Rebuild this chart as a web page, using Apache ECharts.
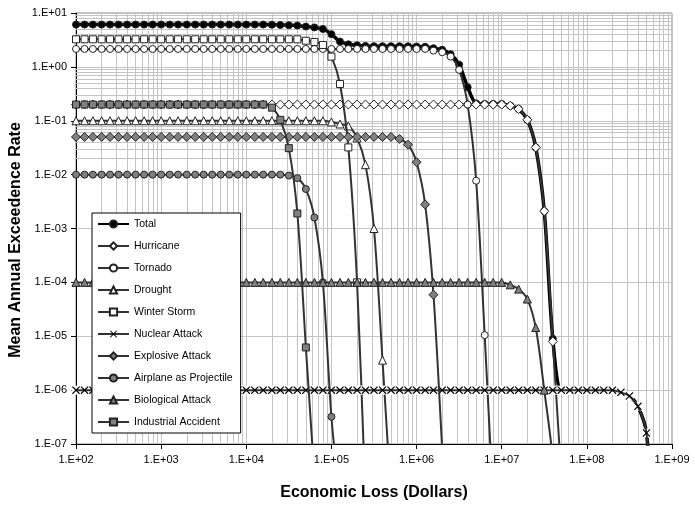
<!DOCTYPE html>
<html><head><meta charset="utf-8">
<script src="https://cdn.jsdelivr.net/npm/echarts@6/dist/echarts.min.js"></script>
<style>html,body{margin:0;padding:0;background:#fff}#c{width:695px;height:506px}</style>
</head><body><div id="c"></div>
<script>
// Loss values (x), 10 points per decade
const lossX = [
1.00e2,1.26e2,1.58e2,2.00e2,2.51e2,3.16e2,3.98e2,5.01e2,6.31e2,7.94e2,
1.00e3,1.26e3,1.58e3,2.00e3,2.51e3,3.16e3,3.98e3,5.01e3,6.31e3,7.94e3,
1.00e4,1.26e4,1.58e4,2.00e4,2.51e4,3.16e4,3.98e4,5.01e4,6.31e4,7.94e4,
1.00e5,1.26e5,1.58e5,2.00e5,2.51e5,3.16e5,3.98e5,5.01e5,6.31e5,7.94e5,
1.00e6,1.26e6,1.58e6,2.00e6,2.51e6,3.16e6,3.98e6,5.01e6,6.31e6,7.94e6,
1.00e7,1.26e7,1.58e7,2.00e7,2.51e7,3.16e7,3.98e7,5.01e7,6.31e7,7.94e7,
1.00e8,1.26e8,1.58e8,2.00e8,2.51e8,3.16e8,3.98e8,5.01e8,6.31e8,7.94e8,
1.00e9];

const seriesNames = ['Total','Hurricane','Tornado','Drought','Winter Storm','Nuclear Attack','Explosive Attack','Airplane as Projectile','Biological Attack','Industrial Accident'];

const total = [
6.1,6.1,6.1,6.1,6.1,6.1,6.1,6.1,6.1,6.1,
6.1,6.1,6.1,6.1,6.1,6.1,6.1,6.1,6.1,6.1,
6.1,6.1,6.1,6.07,6.0,5.93,5.85,5.6,5.4,5.05,
4.05,2.95,2.62,2.52,2.45,2.42,2.42,2.42,2.42,2.41,
2.39,2.37,2.22,2.08,1.72,1.1,0.42,0.21,0.205,0.205,
0.205,0.19,0.165,0.104,0.032,0.0021,9e-6,1e-6,1e-6,1e-6,
1e-6,1e-6,1e-6,1e-6,9.1e-7,7.8e-7,5e-7,1.6e-7,1e-9];

const hurricane = [
0.2,0.2,0.2,0.2,0.2,0.2,0.2,0.2,0.2,0.2,
0.2,0.2,0.2,0.2,0.2,0.2,0.2,0.2,0.2,0.2,
0.2,0.2,0.2,0.2,0.2,0.2,0.2,0.2,0.2,0.2,
0.2,0.2,0.2,0.2,0.2,0.2,0.2,0.2,0.2,0.2,
0.2,0.2,0.2,0.2,0.2,0.2,0.2,0.2,0.2,0.2,
0.2,0.19,0.165,0.104,0.032,0.0021,8e-6,2.5e-8];

const tornado = [
2.15,2.15,2.15,2.15,2.15,2.15,2.15,2.15,2.15,2.15,
2.15,2.15,2.15,2.15,2.15,2.15,2.15,2.15,2.15,2.15,
2.15,2.15,2.15,2.15,2.15,2.15,2.15,2.15,2.15,2.15,
2.15,2.15,2.15,2.15,2.15,2.15,2.15,2.15,2.15,2.15,
2.15,2.15,2.0,1.87,1.55,0.88,0.2,0.0077,1.05e-5,8e-9];

const drought = [
0.1,0.1,0.1,0.1,0.1,0.1,0.1,0.1,0.1,0.1,
0.1,0.1,0.1,0.1,0.1,0.1,0.1,0.1,0.1,0.1,
0.1,0.1,0.1,0.1,0.1,0.1,0.1,0.1,0.1,0.1,
0.095,0.087,0.08,0.048,0.0153,1.0e-3,3.6e-6,1e-8];

const winterStorm = [
3.25,3.25,3.25,3.25,3.25,3.25,3.25,3.25,3.25,3.25,
3.25,3.25,3.25,3.25,3.25,3.25,3.25,3.25,3.25,3.25,
3.25,3.25,3.25,3.25,3.25,3.25,3.25,3.06,2.9,2.55,
1.55,0.48,0.032,1e-4,1e-8];

const nuclear = [
1e-6,1e-6,1e-6,1e-6,1e-6,1e-6,1e-6,1e-6,1e-6,1e-6,
1e-6,1e-6,1e-6,1e-6,1e-6,1e-6,1e-6,1e-6,1e-6,1e-6,
1e-6,1e-6,1e-6,1e-6,1e-6,1e-6,1e-6,1e-6,1e-6,1e-6,
1e-6,1e-6,1e-6,1e-6,1e-6,1e-6,1e-6,1e-6,1e-6,1e-6,
1e-6,1e-6,1e-6,1e-6,1e-6,1e-6,1e-6,1e-6,1e-6,1e-6,
1e-6,1e-6,1e-6,1e-6,1e-6,1e-6,1e-6,1e-6,1e-6,1e-6,
1e-6,1e-6,1e-6,1e-6,9.1e-7,7.8e-7,5e-7,1.6e-7,1e-9];

const explosive = [
0.05,0.05,0.05,0.05,0.05,0.05,0.05,0.05,0.05,0.05,
0.05,0.05,0.05,0.05,0.05,0.05,0.05,0.05,0.05,0.05,
0.05,0.05,0.05,0.05,0.05,0.05,0.05,0.05,0.05,0.05,
0.05,0.05,0.05,0.05,0.05,0.05,0.05,0.05,0.046,0.036,
0.017,0.0028,5.9e-5,8e-8,1e-10];

const airplane = [
0.01,0.01,0.01,0.01,0.01,0.01,0.01,0.01,0.01,0.01,
0.01,0.01,0.01,0.01,0.01,0.01,0.01,0.01,0.01,0.01,
0.01,0.01,0.01,0.01,0.01,0.0096,0.0086,0.0054,0.0016,1e-4,
3.2e-7,8e-9];

const biological = [
1e-4,1e-4,1e-4,1e-4,1e-4,1e-4,1e-4,1e-4,1e-4,1e-4,
1e-4,1e-4,1e-4,1e-4,1e-4,1e-4,1e-4,1e-4,1e-4,1e-4,
1e-4,1e-4,1e-4,1e-4,1e-4,1e-4,1e-4,1e-4,1e-4,1e-4,
1e-4,1e-4,1e-4,1e-4,1e-4,1e-4,1e-4,1e-4,1e-4,1e-4,
1e-4,1e-4,1e-4,1e-4,1e-4,1e-4,1e-4,1e-4,1e-4,1e-4,
1e-4,9e-5,7.5e-5,4.9e-5,1.45e-5,1.0e-6,5e-8,1e-10];

const industrial = [
0.2,0.2,0.2,0.2,0.2,0.2,0.2,0.2,0.2,0.2,
0.2,0.2,0.2,0.2,0.2,0.2,0.2,0.2,0.2,0.2,
0.2,0.2,0.2,0.175,0.104,0.031,0.0019,6.2e-6,2.5e-8];

const xTickLabels = ['1.E+02','1.E+03','1.E+04','1.E+05','1.E+06','1.E+07','1.E+08','1.E+09'];
const yTickLabels = ['1.E-07','1.E-06','1.E-05','1.E-04','1.E-03','1.E-02','1.E-01','1.E+00','1.E+01'];
const xTitle = 'Economic Loss (Dollars)';
const yTitle = 'Mean Annual Exceedence Rate';

const values = [total, hurricane, tornado, drought, winterStorm, nuclear, explosive, airplane, biological, industrial];

const X_PATH = 'path://M1,0L5,4L9,0L10,1L6,5L10,9L9,10L5,6L1,10L0,9L4,5L0,1Z';
const looks = [
  {symbol:'circle', size:7, fill:'#000', lw:3.5, lc:'#000'},
  {symbol:'diamond', size:9, fill:'#fff', lw:2, lc:'#333'},
  {symbol:'circle', size:7, fill:'#fff', lw:2, lc:'#333'},
  {symbol:'triangle', size:8, fill:'#fff', lw:2, lc:'#333'},
  {symbol:'rect', size:7, fill:'#fff', lw:2, lc:'#333'},
  {symbol:X_PATH, size:8, fill:'#000', lw:2, lc:'#333', noBorder:true},
  {symbol:'diamond', size:9, fill:'#808080', lw:2, lc:'#333'},
  {symbol:'circle', size:7, fill:'#808080', lw:2, lc:'#333'},
  {symbol:'triangle', size:8, fill:'#808080', lw:2, lc:'#333'},
  {symbol:'rect', size:7, fill:'#808080', lw:2, lc:'#333'}
];

const FONT = '"Liberation Sans", Arial, sans-serif';

const series = [];
seriesNames.forEach((name, i) => {
  const lk = looks[i];
  const data = values[i].map((v, k) => [lossX[k], v]);
  if (lk.noBorder) {
    // white box behind each X marker (as in the original)
    series.push({
      name: name + ' bg', type: 'line', z: 9 + 2 * i, data,
      symbol: 'rect', symbolSize: 9, showSymbol: true, clip: true, silent: true,
      lineStyle: {width: 0, opacity: 0},
      itemStyle: {color: '#fff', borderWidth: 0},
      emphasis: {disabled: true}
    });
  }
  series.push({
    name, type:'line', z: 10 + 2 * i, data,
    symbol: lk.symbol, symbolSize: lk.size, showSymbol: true,
    smooth: 0.3, clip: true,
    lineStyle: {color: lk.lc, width: lk.lw},
    itemStyle: {color: lk.fill, borderColor: '#222', borderWidth: lk.noBorder ? 0 : 1},
    emphasis: {disabled: true}
  });
});

const minorLines = [];
for (let e = 2; e < 9; e++) for (let m = 2; m <= 9; m++) minorLines.push({xAxis: m * Math.pow(10, e)});
for (let e = -7; e < 1; e++) for (let m = 2; m <= 9; m++) minorLines.push({yAxis: m * Math.pow(10, e)});

series.unshift({
  name: 'grid', type: 'line', data: [], z: 1, silent: true,
  markLine: {silent: true, symbol: ['none','none'], label: {show:false}, animation: false,
    lineStyle: {color: '#c4c4c4', width: 1, type: 'solid'}, emphasis: {disabled: true},
    data: minorLines}
});

const chart = echarts.init(document.getElementById('c'), null, {renderer: 'canvas'});
chart.setOption({
  animation: false,
  backgroundColor: '#fff',
  grid: {left: 76, right: 23, top: 13, bottom: 62, show: true, borderColor: '#888', borderWidth: 1},
  xAxis: {
    type: 'log', logBase: 10, min: 100, max: 1e9, interval: 1,
    axisLine: {show: true, onZero: false, lineStyle: {color: '#000', width: 1}},
    axisTick: {show: true, length: 5, lineStyle: {color: '#000'}},
    axisLabel: {color: '#000', fontFamily: FONT, fontSize: 11, margin: 10,
      formatter: v => xTickLabels[Math.round(Math.log10(v)) - 2]},
    splitLine: {show: true, lineStyle: {color: '#c4c4c4', width: 1}}
  },
  yAxis: {
    type: 'log', logBase: 10, min: 1e-7, max: 10, interval: 1,
    axisLine: {show: true, onZero: false, lineStyle: {color: '#000', width: 1}},
    axisTick: {show: true, length: 5, lineStyle: {color: '#000'}},
    axisLabel: {color: '#000', fontFamily: FONT, fontSize: 11, margin: 9,
      formatter: v => yTickLabels[Math.round(Math.log10(v)) + 7]},
    splitLine: {show: true, lineStyle: {color: '#c4c4c4', width: 1}}
  },
  legend: {
    data: seriesNames, orient: 'vertical', left: 92, top: 213, z: 50,
    backgroundColor: '#fff', borderColor: '#000', borderWidth: 1,
    padding: [4, 8, 4, 5], itemGap: 8, itemWidth: 31, itemHeight: 9,
    selectedMode: false,
    textStyle: {fontFamily: FONT, fontSize: 10.5, color: '#000', lineHeight: 14}
  },
  graphic: [
    {type: 'text', x: 374, y: 493, z: 100,
      style: {text: xTitle, font: 'bold 16px "Liberation Sans", Arial, sans-serif', fill: '#000',
        textAlign: 'center', textVerticalAlign: 'middle', align: 'center', verticalAlign: 'middle'}},
    {type: 'text', x: 16, y: 240, rotation: Math.PI / 2, z: 100,
      style: {text: yTitle, font: 'bold 16px "Liberation Sans", Arial, sans-serif', fill: '#000',
        textAlign: 'center', textVerticalAlign: 'middle', align: 'center', verticalAlign: 'middle'}}
  ],
  series
});
</script>
</body></html>
